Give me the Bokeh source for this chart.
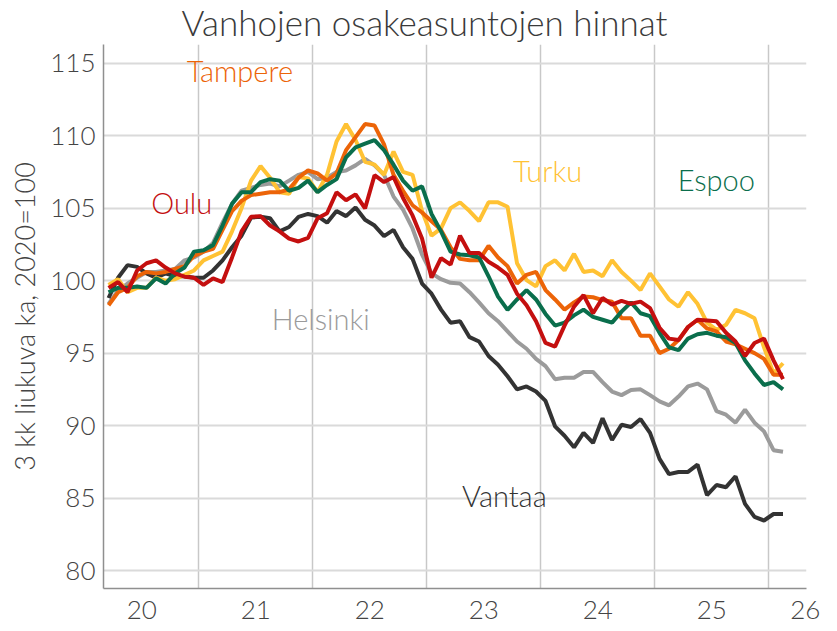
import pandas as pd
from bokeh.plotting import figure
from bokeh.models import FixedTicker, Range1d, Title, ColumnDataSource
from bokeh.core.properties import value
from bokeh.embed import file_html
from bokeh.resources import INLINE

# Monthly observations, 3-month moving average, Mar 2020 .. Feb 2026
months = pd.date_range("2020-03-01", "2026-02-01", freq="MS")

helsinki = [98.4, 99.3, 99.8, 100.2, 100.6, 100.6, 100.7, 100.8, 101.4, 101.6,
            102.0, 102.6, 104.0, 105.3, 106.2, 106.4, 106.6, 106.7, 106.5, 106.9,
            107.3, 107.5, 107.0, 107.1, 107.5, 107.6, 107.95, 108.4, 107.95, 107.3,
            105.8, 104.9, 103.6, 101.8, 100.5, 100.1, 99.85, 99.8, 99.2, 98.5,
            97.75, 97.2, 96.5, 95.8, 95.3, 94.6, 94.1, 93.2, 93.3, 93.3,
            93.7, 93.7, 93.0, 92.35, 92.1, 92.45, 92.5, 92.1, 91.67, 91.4,
            92.0, 92.7, 92.9, 92.5, 91.0, 90.75, 90.2, 91.1, 90.2, 89.6,
            88.3, 88.2]

vantaa = [98.8, 100.2, 101.07, 100.95, 100.5, 100.2, 100.5, 100.3, 100.3, 100.2,
          100.2, 100.7, 101.4, 102.3, 103.1, 104.35, 104.4, 104.3, 103.4, 103.7,
          104.4, 104.6, 104.45, 104.0, 104.8, 104.45, 105.05, 104.2, 103.8, 103.07,
          103.5, 102.3, 101.5, 99.8, 99.1, 98.0, 97.1, 97.2, 96.1, 95.8,
          94.8, 94.2, 93.4, 92.5, 92.7, 92.35, 91.7, 89.95, 89.3, 88.5,
          89.5, 88.8, 90.5, 89.0, 90.06, 89.9, 90.45, 89.5, 87.7, 86.65,
          86.8, 86.8, 87.3, 85.2, 85.9, 85.75, 86.5, 84.6, 83.7, 83.45,
          83.9, 83.9]

espoo = [99.2, 99.5, 99.5, 99.6, 99.5, 100.16, 99.8, 100.5, 100.9, 102.0,
         102.1, 102.45, 103.8, 105.3, 106.1, 106.1, 106.8, 107.0, 106.9, 106.2,
         106.4, 106.9, 106.1, 106.6, 107.0, 108.5, 109.2, 109.45, 109.7, 109.0,
         108.0, 106.9, 106.2, 106.5, 104.6, 103.4, 102.0, 101.8, 101.75, 101.6,
         100.3, 98.9, 97.98, 98.7, 99.35, 98.7, 97.7, 96.9, 97.1, 97.6,
         98.0, 97.5, 97.3, 97.1, 97.86, 98.5, 97.75, 97.55, 96.4, 95.4,
         95.2, 96.0, 96.3, 96.4, 96.2, 96.1, 95.7, 94.5, 93.6, 92.8,
         93.0, 92.5]

tampere = [98.3, 99.2, 99.5, 100.3, 100.6, 100.5, 100.6, 100.8, 101.0, 101.7,
           102.0, 102.2, 103.5, 104.8, 105.5, 105.9, 106.0, 106.1, 106.1, 106.3,
           107.1, 107.6, 107.4, 106.9, 107.4, 109.0, 109.9, 110.8, 110.7, 109.4,
           107.3, 106.2, 105.2, 104.7, 104.1, 103.5, 102.3, 101.5, 101.4, 101.4,
           102.4, 101.6, 101.0, 99.8, 100.4, 100.6, 99.35, 98.7, 98.0, 98.5,
           98.9, 98.85, 98.66, 98.55, 97.4, 97.4, 96.2, 96.2, 95.0, 95.3,
           95.9, 96.8, 97.3, 96.7, 96.5, 95.8, 95.6, 95.3, 95.0, 94.6,
           93.5, 93.5]

turku = [99.7, 100.1, 99.2, 99.5, 99.5, 100.2, 100.0, 100.1, 100.4, 100.7,
         101.4, 101.7, 102.0, 103.4, 105.0, 106.9, 107.9, 107.1, 106.1, 106.0,
         107.15, 107.05, 106.1, 107.3, 109.6, 110.8, 109.7, 108.2, 108.0, 107.3,
         108.9, 107.5, 107.3, 104.8, 103.1, 103.6, 105.0, 105.4, 104.8, 104.1,
         105.4, 105.4, 105.1, 101.2, 100.04, 99.6, 101.0, 101.4, 100.7, 101.85,
         100.6, 100.7, 100.3, 101.4, 100.6, 100.0, 99.35, 100.5, 99.6, 98.7,
         98.2, 99.2, 98.4, 97.1, 96.6, 96.95, 97.98, 97.75, 97.4, 95.4,
         93.6, 94.3]

oulu = [99.5, 99.9, 99.2, 100.7, 101.2, 101.4, 100.9, 100.5, 100.27, 100.2,
        99.7, 100.16, 99.9, 101.6, 103.4, 104.4, 104.45, 103.8, 103.4, 102.9,
        102.7, 102.95, 104.3, 104.65, 106.1, 105.55, 105.95, 104.98, 107.27, 106.8,
        107.15, 105.7, 104.5, 102.9, 100.2, 101.55, 101.1, 103.1, 101.9, 101.9,
        101.3, 100.9, 100.4, 99.1, 98.3, 97.2, 95.7, 95.45, 96.9, 98.2,
        99.0, 97.75, 98.8, 98.35, 98.6, 98.4, 98.55, 98.1, 96.75, 96.0,
        95.9, 96.8, 97.3, 97.25, 97.2, 96.4, 95.8, 94.8, 95.7, 96.0,
        94.5, 93.2]

# city labels: name, colour, label position (decimal year, index value)
cities = ["Helsinki", "Vantaa", "Turku", "Tampere", "Espoo", "Oulu"]
colors = ["#9b9b9b", "#333333", "#ffc234", "#ec6408", "#0a6e4c", "#c40f0f"]
label_x = [2022.07, 2023.68, 2024.06, 2021.36, 2025.54, 2020.85]
label_y = [97.36, 85.18, 107.61, 114.49, 106.99, 105.39]

year_ticks = [2020.5, 2021.5, 2022.5, 2023.5, 2024.5, 2025.5, 2026.32]
year_labels = ["20", "21", "22", "23", "24", "25", "26"]
year_grid = [2021, 2022, 2023, 2024, 2025, 2026]
y_ticks = [80, 85, 90, 95, 100, 105, 110, 115]

title_text = "Vanhojen osakeasuntojen hinnat"

x = [d.year + (d.month - 0.5) / 12 for d in months]
series = dict(Helsinki=helsinki, Vantaa=vantaa, Turku=turku,
              Tampere=tampere, Espoo=espoo, Oulu=oulu)

FONT = "Lato Light"
TXT = "#444444"

p = figure(width=830, height=631, output_backend="svg", toolbar_location=None,
           x_range=Range1d(2020.164, 2026.331), y_range=Range1d(78.76, 116.29),
           min_border_left=103, min_border_right=24, min_border_top=43,
           min_border_bottom=43)
p.outline_line_color = None
p.background_fill_color = "white"

p.add_layout(Title(text=title_text, align="left", offset=78,
                   vertical_align="top", standoff=0,
                   text_font=FONT, text_font_size="35px",
                   text_font_style="normal", text_color="#3a3a3a"), "above")

for name, col in zip(cities, colors):
    p.line(x, series[name], line_color=col, line_width=4)

src = ColumnDataSource(dict(x=label_x, y=label_y, t=cities, c=colors))
p.text("x", "y", text="t", text_color="c", source=src,
       text_font=value(FONT), text_font_size="29px",
       text_align="center", text_baseline="middle")

# axes
p.xaxis.ticker = FixedTicker(ticks=year_ticks)
p.xaxis.major_label_overrides = {t_: l for t_, l in zip(year_ticks, year_labels)}
p.yaxis.ticker = FixedTicker(ticks=y_ticks)
for ax in (p.xaxis, p.yaxis):
    ax.major_tick_line_color = None
    ax.minor_tick_line_color = None
    ax.major_tick_out = 0
    ax.major_tick_in = 0
    ax.axis_line_color = "#8f8f8f"
    ax.axis_line_width = 1.5
    ax.major_label_text_font = FONT
    ax.major_label_text_font_size = "26px"
    ax.major_label_text_color = TXT
p.xaxis.major_label_standoff = 12
p.yaxis.major_label_standoff = 8
p.yaxis.axis_label = "3 kk liukuva ka, 2020=100"
p.yaxis.axis_label_text_font = FONT
p.yaxis.axis_label_text_font_size = "27px"
p.yaxis.axis_label_text_font_style = "normal"
p.yaxis.axis_label_text_color = TXT
p.yaxis.axis_label_standoff = 6

p.xgrid.ticker = FixedTicker(ticks=year_grid)
p.xgrid.grid_line_color = "#c8c8c8"
p.xgrid.grid_line_width = 1.5
p.ygrid.grid_line_color = "#dadada"
p.ygrid.grid_line_width = 2

open("out.html", "w").write(file_html(p, INLINE))
